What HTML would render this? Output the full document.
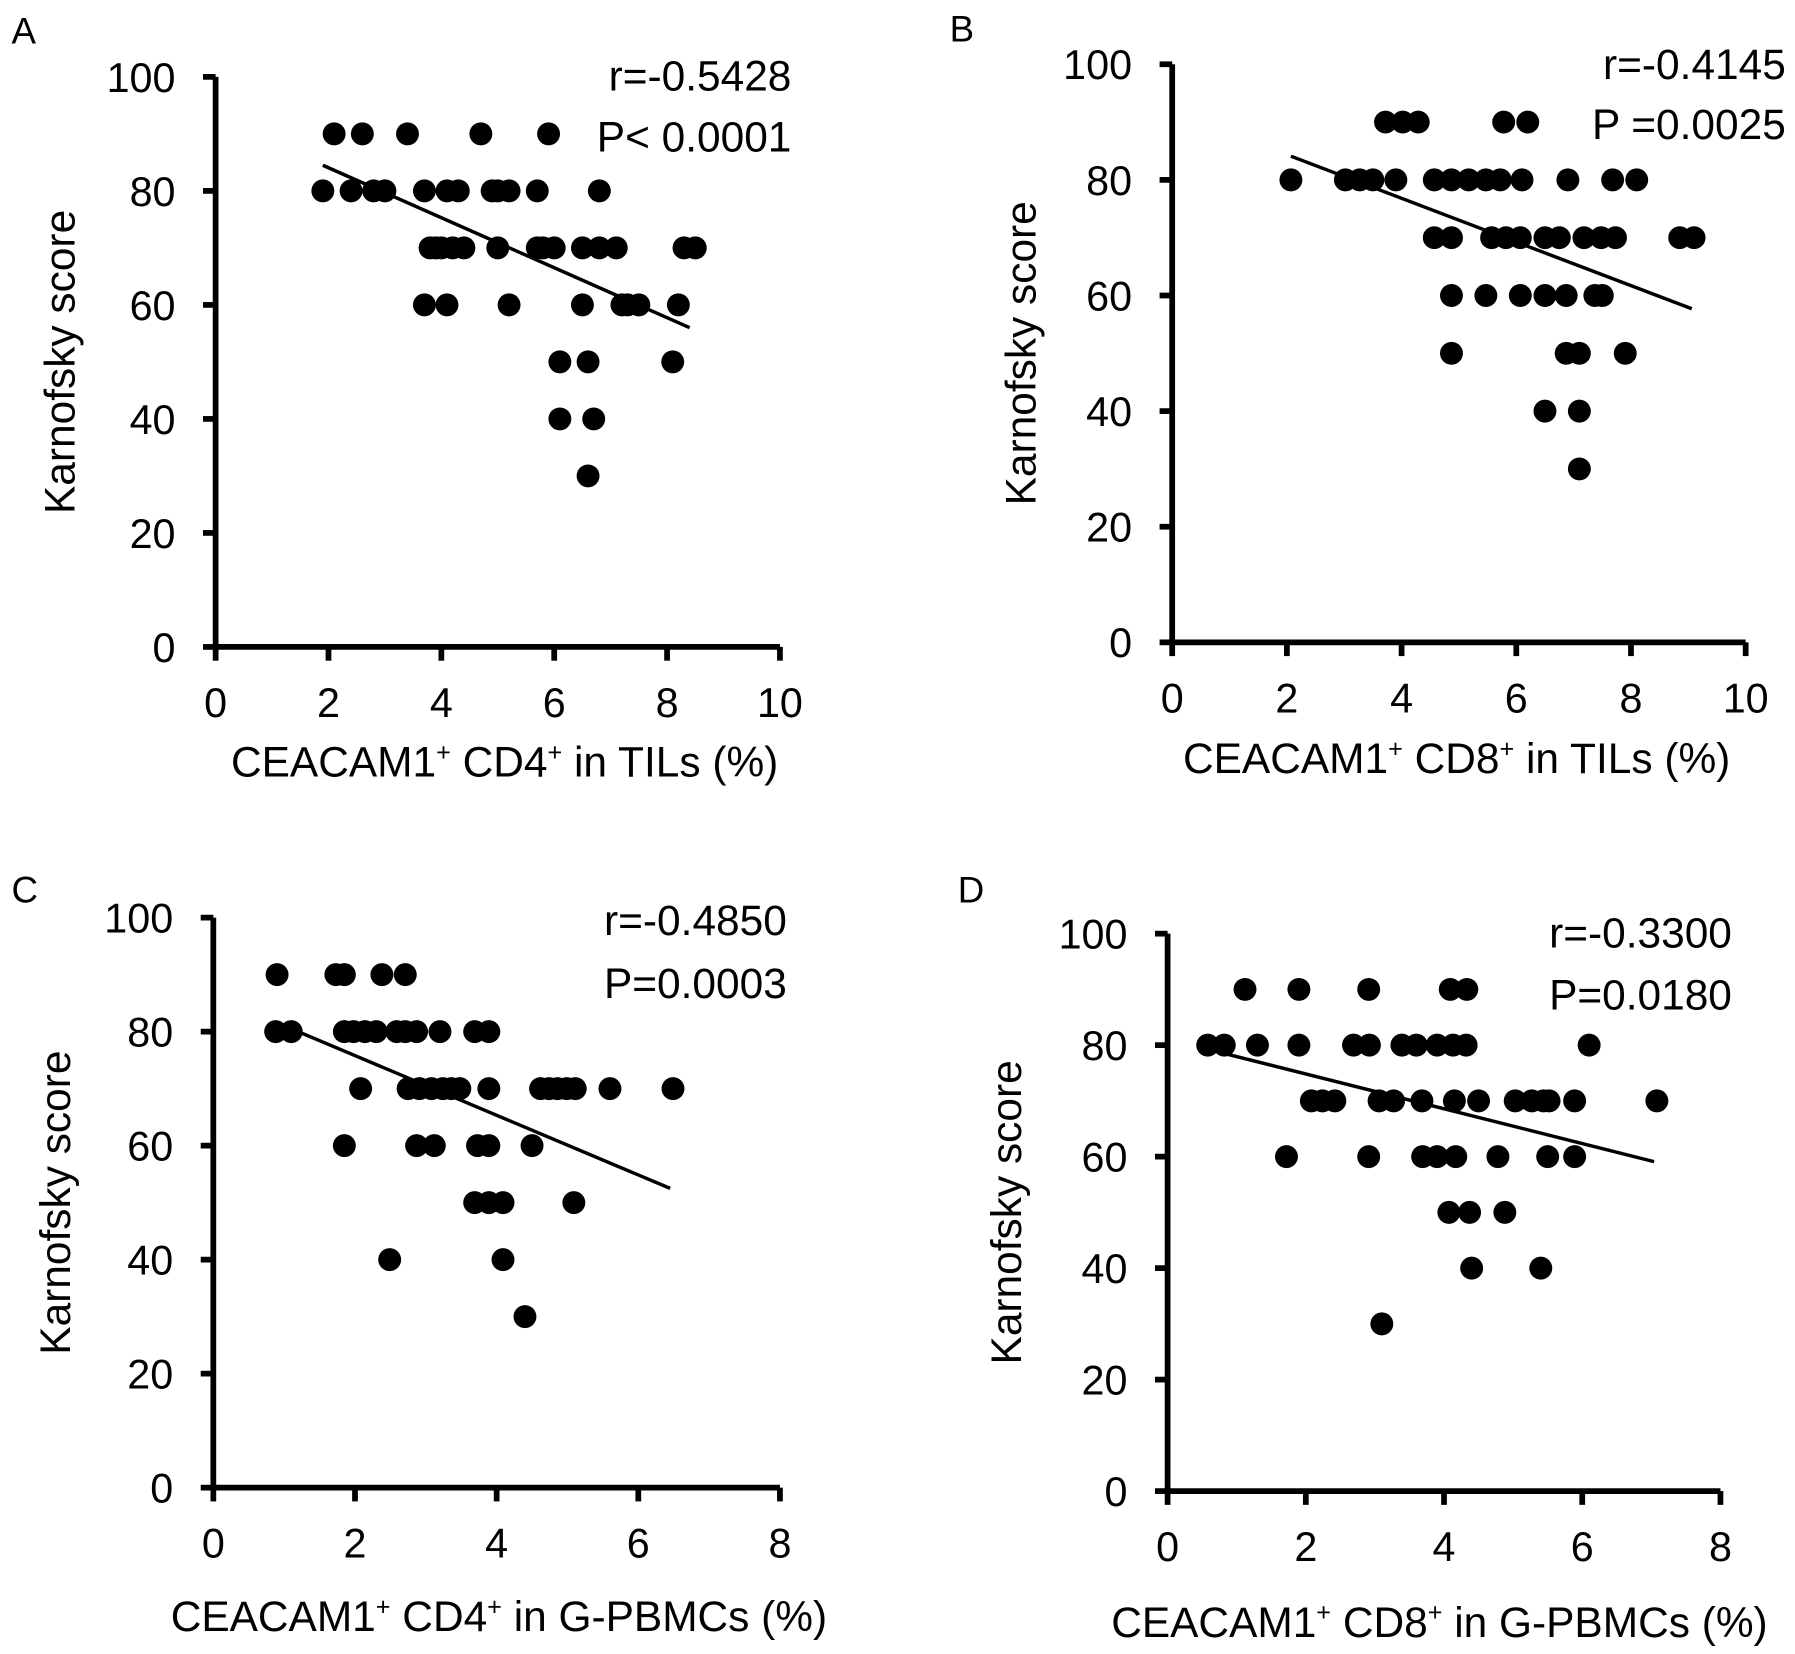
<!DOCTYPE html>
<html><head><meta charset="utf-8"><style>
html,body{margin:0;padding:0;background:#fff;}
svg{display:block;font-family:"Liberation Sans",Arial,sans-serif;}
</style></head><body>
<svg id="fig" width="1795" height="1654" viewBox="0 0 1565 1442" xmlns="http://www.w3.org/2000/svg"></svg>
<script>
// Panel A data
const aX = [2.1,2.6,3.4,4.7,5.9, 1.9,2.4,2.8,3.0,3.7,4.1,4.3,4.9,5.0,5.2,5.7,6.8, 3.8,3.9,4.0,4.2,4.4,5.0,5.7,5.8,6.0,6.5,6.8,7.1,8.3,8.5, 3.7,4.1,5.2,6.5,7.2,7.3,7.5,8.2, 6.1,6.6,8.1, 6.1,6.7, 6.6];
const aY = [90,90,90,90,90, 80,80,80,80,80,80,80,80,80,80,80,80, 70,70,70,70,70,70,70,70,70,70,70,70,70,70, 60,60,60,60,60,60,60,60, 50,50,50, 40,40, 30];
const aFit = [[1.9,84.5],[8.4,56]];
// Panel B data
const bX = [3.72,4.02,4.29,5.78,6.2, 2.07,3.02,3.27,3.5,3.9,4.57,4.87,5.17,5.47,5.72,6.1,6.9,7.68,8.1, 4.57,4.87,5.57,5.82,6.07,6.5,6.75,7.18,7.48,7.73,8.85,9.1, 4.87,5.47,6.07,6.5,6.87,7.37,7.5, 4.87,6.87,7.1,7.9, 6.5,7.1, 7.1];
const bY = [90,90,90,90,90, 80,80,80,80,80,80,80,80,80,80,80,80,80,80, 70,70,70,70,70,70,70,70,70,70,70,70, 60,60,60,60,60,60,60, 50,50,50,50, 40,40, 30];
const bFit = [[2.07,84.1],[9.06,57.7]];
// Panel C data
const cX = [0.9,1.73,1.85,2.38,2.71, 0.88,1.1,1.85,1.98,2.14,2.3,2.59,2.71,2.87,3.2,3.69,3.89, 2.08,2.75,2.91,3.08,3.24,3.36,3.48,3.89,4.62,4.74,4.86,4.99,5.11,5.6,6.49, 1.85,2.87,3.12,3.73,3.89,4.5, 3.69,3.89,4.09,5.09, 2.49,4.09, 4.4];
const cY = [90,90,90,90,90, 80,80,80,80,80,80,80,80,80,80,80,80, 70,70,70,70,70,70,70,70,70,70,70,70,70,70,70, 60,60,60,60,60,60, 50,50,50,50, 40,40, 30];
const cFit = [[1.12,80.4],[6.45,52.5]];
// Panel D data
const dX = [1.12,1.9,2.91,4.09,4.33, 0.58,0.82,1.3,1.9,2.69,2.92,3.39,3.6,3.9,4.13,4.32,6.1, 2.08,2.24,2.42,3.06,3.27,3.68,4.15,4.5,5.03,5.27,5.44,5.52,5.89,7.08, 1.72,2.91,3.69,3.9,4.17,4.78,5.5,5.89, 4.07,4.37,4.88, 4.4,5.4, 3.1];
const dY = [90,90,90,90,90, 80,80,80,80,80,80,80,80,80,80,80,80, 70,70,70,70,70,70,70,70,70,70,70,70,70,70, 60,60,60,60,60,60,60,60, 50,50,50, 40,40, 30];
const dFit = [[0.76,78.7],[7.04,59.1]];
const yTicks = [0,20,40,60,80,100];
const xTicksAB = [0,2,4,6,8,10];
const xTicksCD = [0,2,4,6,8];

const NS = "http://www.w3.org/2000/svg";
const svg = document.getElementById('fig');
function mk(tag, attrs, parent){const e=document.createElementNS(NS,tag);for(const k in attrs)e.setAttribute(k,attrs[k]);(parent||svg).appendChild(e);return e;}

const panels = [
 {id:'a',letter:'A',lx:10,ly:38,x0:188,x1:680,xmax:10,y0:564,y1:67,xs:aX,ys:aY,fit:aFit,xt:xTicksAB,r:'r=-0.5428',p:'P< 0.0001',sx:690,sy1:79,sy2:132,ytx:52,xtx:440,xty:677,xl:['CEACAM1','CD4','in TILs (%)']},
 {id:'b',letter:'B',lx:828,ly:36,x0:1022,x1:1522,xmax:10,y0:560,y1:56,xs:bX,ys:bY,fit:bFit,xt:xTicksAB,r:'r=-0.4145',p:'P =0.0025',sx:1557,sy1:69,sy2:121,ytx:890,xtx:1270,xty:674,xl:['CEACAM1','CD8','in TILs (%)']},
 {id:'c',letter:'C',lx:10,ly:787,x0:186,x1:680,xmax:8,y0:1297,y1:800,xs:cX,ys:cY,fit:cFit,xt:xTicksCD,r:'r=-0.4850',p:'P=0.0003',sx:686,sy1:815,sy2:870,ytx:48,xtx:435,xty:1422,xl:['CEACAM1','CD4','in G-PBMCs (%)']},
 {id:'d',letter:'D',lx:835,ly:787,x0:1018,x1:1500,xmax:8,y0:1300,y1:814,xs:dX,ys:dY,fit:dFit,xt:xTicksCD,r:'r=-0.3300',p:'P=0.0180',sx:1510,sy1:826,sy2:880,ytx:877,xtx:1255,xty:1427,xl:['CEACAM1','CD8','in G-PBMCs (%)']}
];

panels.forEach(P=>{
  const g = mk('g',{});
  
  
  const X = v => P.x0 + (P.x1-P.x0)*v/P.xmax;
  const Y = v => P.y0 + (P.y1-P.y0)*v/100;
  const lt = mk('text',{x:P.lx,y:P.ly,'font-size':32},g); lt.textContent=P.letter;
  
  
  const ax = mk('path',{d:`M${P.x0},${P.y1} V${P.y0} H${P.x1}`,stroke:'#000','stroke-width':5,fill:'none'},g);
  
  
  yTicks.forEach(t=>{
    mk('line',{x1:P.x0-11,x2:P.x0,y1:Y(t),y2:Y(t),stroke:'#000','stroke-width':5},g);
    const tx = mk('text',{x:P.x0-35,y:Y(t)+13,'font-size':36,'text-anchor':'end'},g);
    tx.textContent=t;
    
    
  });
  P.xt.forEach(t=>{
    mk('line',{x1:X(t),x2:X(t),y1:P.y0,y2:P.y0+12,stroke:'#000','stroke-width':5},g);
    const tx = mk('text',{x:X(t),y:P.y0+61,'font-size':36,'text-anchor':'middle'},g);
    tx.textContent=t;
    
    
  });
  const yt = mk('text',{x:0,y:0,'font-size':37,'text-anchor':'middle',transform:`translate(${P.ytx+13},${(P.y0+P.y1)/2}) rotate(-90)`},g);
  yt.textContent='Karnofsky score';
  
  
  const xtt = mk('text',{x:P.xtx,y:P.xty,'font-size':37,'text-anchor':'middle'},g);
  
  
  const s1=mk('tspan',{},xtt); s1.textContent=P.xl[0];
  const s2=mk('tspan',{'font-size':22,dy:-14},xtt); s2.textContent='+';
  const s3=mk('tspan',{dy:14},xtt); s3.textContent=' '+P.xl[1];
  const s4=mk('tspan',{'font-size':22,dy:-14},xtt); s4.textContent='+';
  const s5=mk('tspan',{dy:14},xtt); s5.textContent=' '+P.xl[2];
  const r = mk('text',{x:P.sx,y:P.sy1,'font-size':37,'text-anchor':'end'},g); r.textContent=P.r;
  
  
  const p = mk('text',{x:P.sx,y:P.sy2,'font-size':37,'text-anchor':'end'},g); p.textContent=P.p;
  
  
  P.xs.forEach((v,i)=>{
    const c = mk('circle',{cx:X(v),cy:Y(P.ys[i]),r:10,fill:'#000'},g);
    
    
  });
  const fl = mk('line',{x1:X(P.fit[0][0]),y1:Y(P.fit[0][1]),x2:X(P.fit[1][0]),y2:Y(P.fit[1][1]),stroke:'#000','stroke-width':3},g);
  
  
});
</script>
</body></html>
